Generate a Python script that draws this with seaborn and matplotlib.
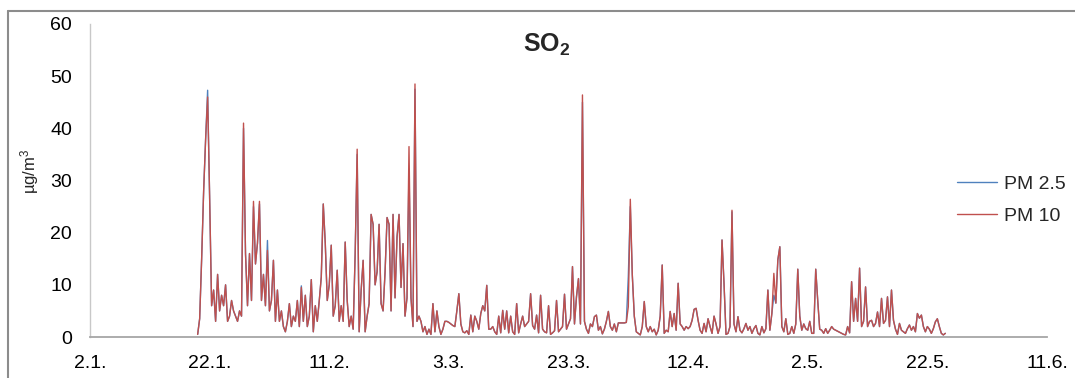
import pandas as pd
import matplotlib
matplotlib.use("Agg")
import matplotlib.pyplot as plt
from matplotlib.lines import Line2D
import seaborn as sns

# Hourly-derived SO2 readings, one value every 8 hours from 20 Jan
start = "2013-01-20 00:00"
step = "8h"

pm25 = [
    0.5, 3.5, 15, 28, 38, 47.3, 27, 6, 9, 3,
    12, 5, 8, 6, 10, 3, 4, 7, 5, 4,
    3, 5, 4, 40, 16, 6, 16, 7, 25, 14,
    18, 25.5, 7, 12, 6, 18.5, 5, 7, 14.7, 3,
    9, 3, 5, 2, 1, 3, 6.4, 2, 4, 3,
    7, 2, 9.8, 3, 8, 2, 4, 11, 1, 6,
    3, 7,
    11.5, 25.5, 18, 7, 10, 17.6, 4, 6, 12.8, 3,
    6, 3, 18.2, 7, 2, 4, 1.5, 16, 35, 1,
    9, 14.7, 1, 4, 6.4, 23.5, 21.6, 10, 12.5, 21.6,
    6.4, 5, 12.5, 22.9, 21.6, 5, 23.5, 7.5, 19.2, 23.5,
    9.5, 17.9, 4, 7.5, 32, 7.5, 2, 47.5, 3, 4,
    3, 1, 2, 0.5, 1.5, 0.5, 6.4, 1, 5, 2,
    0.5, 1.5,
    3, 3, 2.8, 2.5, 2.2, 2, 5, 8.3, 2.5, 1,
    0.8, 1.2, 0.5, 4.2, 1, 4, 3, 1.5, 4.5, 6,
    5, 9.9, 1.5, 1.5, 2, 1, 0.5, 4, 0.8, 5.1,
    1.5, 5, 0.8, 4, 1, 0.5, 6.4, 0.8, 2.5, 4,
    2, 2.5, 3, 8.3, 2.2, 1.5, 4.2, 0.8, 8, 1.5,
    1, 0.8, 6, 0.5, 0.8, 1.2, 7, 1, 1.5, 2,
    8.2, 1.5, 2.5, 3.5,
    13.5, 2.5, 7.7, 11.2, 2.5, 45, 3, 1.5, 0.7, 2.5,
    2, 3.9, 4.2, 1.3, 2, 0.6, 1.5, 3, 4.9, 2,
    1.3, 2.5, 1, 2.7, 2.7, 2.7, 2.7, 2.8, 11.6, 25,
    11.9, 4, 1, 0.7, 0.4, 2, 6.8, 2, 1, 2,
    1, 1.5, 0.4, 1.3, 4, 13.8, 0.7, 1.3, 1, 4.9,
    2, 4.5, 1.3, 10.3, 2.5, 2, 1.3, 2, 1.6, 2,
    3.2, 5.3,
    5.5, 3.2, 1.3, 0.7, 2.6, 1, 3.5, 2, 0.7, 4,
    2.5, 0.7, 2, 18.6, 10.3, 0.5, 0.7, 2, 24, 2.5,
    1, 3.9, 1.3, 0.8, 1.6, 2.6, 1.3, 2, 0.7, 1.6,
    2.2, 0.7, 0.4, 2, 0.8, 1.6, 9, 1.3, 4.5, 8,
    6.5, 14.8, 17.3, 2, 1, 3.5, 0.5, 0.7, 2, 0.7,
    2.5, 13, 4, 1.3, 2.5, 1.6, 1.3, 3, 0.7, 0.7,
    13, 7, 1.5, 1.3, 0.7, 1.6, 0.7, 1.3, 2, 1.5,
    1.3, 1.1, 0.9, 0.7, 0.5, 0.4, 2, 0.8, 10.6, 3,
    7.4, 3, 13.2, 2, 3, 9.6, 2, 3, 3.2, 2,
    2.6, 4.8, 2, 7.4, 2.6, 3.2, 7.7, 2, 9, 3.2,
    1.5, 0.5, 2.6, 1.3, 1, 0.7, 1.6, 2.3, 1.3, 2,
    1, 4.5, 3.6, 4.2, 2, 1, 2, 1.5, 0.7, 1.6,
    2.9, 3.5, 2, 0.7, 0.4, 0.7,
]

pm10 = [
    0.5, 3.5, 15, 28, 38, 46, 27, 6, 9, 3,
    12, 5, 8, 6, 10, 3, 4, 7, 5, 4,
    3, 5, 4, 41, 16, 6, 16, 7, 26, 14,
    18, 26, 7, 12, 6, 16.6, 5, 7, 14.7, 3,
    9, 3, 5, 2, 1, 3, 6.4, 2, 4, 3,
    7, 2, 9.5, 3, 8, 2, 4, 11, 1, 6,
    3, 7,
    11.5, 25.5, 18, 7, 10, 17.6, 4, 6, 12.8, 3,
    6, 3, 18.2, 7, 2, 4, 1.5, 16, 36, 1,
    9, 14.7, 1, 4, 6.4, 23.5, 21.6, 10, 12.5, 21.6,
    6.4, 5, 12.5, 22.9, 21.6, 5, 23.5, 7.5, 19.2, 23.5,
    9.5, 17.9, 4, 7.5, 36.5, 7.5, 2, 48.5, 3, 4,
    3, 1, 2, 0.5, 1.5, 0.5, 6.4, 1, 5, 2,
    0.5, 1.5,
    3, 3, 2.8, 2.5, 2.2, 2, 5, 8.3, 2.5, 1,
    0.8, 1.2, 0.5, 4.2, 1, 4, 3, 1.5, 4.5, 6,
    5, 9.9, 1.5, 1.5, 2, 1, 0.5, 4, 0.8, 5.1,
    1.5, 5, 0.8, 4, 1, 0.5, 6.4, 0.8, 2.5, 4,
    2, 2.5, 3, 8.3, 2.2, 1.5, 4.2, 0.8, 8, 1.5,
    1, 0.8, 6, 0.5, 0.8, 1.2, 7, 1, 1.5, 2,
    8.2, 1.5, 2.5, 3.5,
    13.5, 2.5, 7.7, 11.2, 2.5, 46.4, 3, 1.5, 0.7, 2.5,
    2, 3.9, 4.2, 1.3, 2, 0.6, 1.5, 3, 4.9, 2,
    1.3, 2.5, 1, 2.7, 2.7, 2.7, 2.7, 2.8, 5.8, 26.4,
    11.9, 4, 1, 0.7, 0.4, 2, 6.8, 2, 1, 2,
    1, 1.5, 0.4, 1.3, 4, 13.8, 0.7, 1.3, 1, 4.9,
    2, 4.5, 1.3, 10.3, 2.5, 2, 1.3, 2, 1.6, 2,
    3.2, 5.3,
    5.5, 3.2, 1.3, 0.7, 2.6, 1, 3.5, 2, 0.7, 4,
    2.5, 0.7, 2, 18.6, 10.3, 0.5, 0.7, 2, 24.3, 2.5,
    1, 3.9, 1.3, 0.8, 1.6, 2.6, 1.3, 2, 0.7, 1.6,
    2.2, 0.7, 0.4, 2, 0.8, 1.6, 9, 1.3, 4.5, 12.2,
    6.5, 14.8, 17.3, 2, 1, 3.5, 0.5, 0.7, 2, 0.7,
    2.5, 13, 4, 1.3, 2.5, 1.6, 1.3, 3, 0.7, 0.7,
    13, 7, 1.5, 1.3, 0.7, 1.6, 0.7, 1.3, 2, 1.5,
    1.3, 1.1, 0.9, 0.7, 0.5, 0.4, 2, 0.8, 10.6, 3,
    7.4, 3, 13.2, 2, 3, 9.6, 2, 3, 3.2, 2,
    2.6, 4.8, 2, 7.4, 2.6, 3.2, 7.7, 2, 9, 3.2,
    1.5, 0.5, 2.6, 1.3, 1, 0.7, 1.6, 2.3, 1.3, 2,
    1, 4.5, 3.6, 4.2, 2, 1, 2, 1.5, 0.7, 1.6,
    2.9, 3.5, 2, 0.7, 0.4, 0.7,
]

series_names = ["PM 2.5", "PM 10"]
series_colors = ["#4F81BD", "#C0504D"]

tick_dates = ["2013-01-02", "2013-01-22", "2013-02-11", "2013-03-03", "2013-03-23",
              "2013-04-12", "2013-05-02", "2013-05-22", "2013-06-11"]
tick_labels = ["2.1.", "22.1.", "11.2.", "3.3.", "23.3.", "12.4.", "2.5.", "22.5.", "11.6."]
y_ticks = [0, 10, 20, 30, 40, 50, 60]

sns.set_theme(style="white")
plt.rcParams["font.family"] = ["Liberation Sans", "DejaVu Sans"]
plt.rcParams["mathtext.fontset"] = "custom"
plt.rcParams["mathtext.rm"] = "Liberation Sans"
plt.rcParams["mathtext.it"] = "Liberation Sans"
plt.rcParams["mathtext.bf"] = "Liberation Sans:bold"

times = pd.date_range(start, periods=len(pm10), freq=step)
df = pd.concat([
    pd.DataFrame({"time": times, "value": pm25, "series": series_names[0]}),
    pd.DataFrame({"time": times, "value": pm10, "series": series_names[1]}),
], ignore_index=True)

W, H = 1075, 378
fig = plt.figure(figsize=(W / 100, H / 100), dpi=100)
ax = fig.add_axes([90 / W, (H - 337) / H, 957 / W, 313 / H])

sns.lineplot(data=df, x="time", y="value", hue="series", hue_order=series_names,
             palette=series_colors, estimator=None, linewidth=1.0, ax=ax, legend=False)

ax.set_xlim(pd.Timestamp(tick_dates[0]), pd.Timestamp(tick_dates[-1]))
ax.set_ylim(0, 60)
ax.set_xticks([pd.Timestamp(d) for d in tick_dates])
ax.set_xticklabels(tick_labels)
ax.set_yticks(y_ticks)
ax.set_yticklabels([str(v) for v in y_ticks])
ax.tick_params(axis="both", length=0, labelsize=14, colors="black")
ax.tick_params(axis="x", pad=13)
ax.tick_params(axis="y", pad=13)
ax.set_xlabel("")
ax.set_ylabel(r"µg/m$^3$", fontsize=12)
ax.yaxis.set_label_coords(-0.051, 0.53)

for side in ("top", "right"):
    ax.spines[side].set_visible(False)
ax.spines["left"].set_color("#C8C8C8")
ax.spines["left"].set_linewidth(1.0)
ax.spines["bottom"].set_color("#A6A6A6")
ax.spines["bottom"].set_linewidth(1.3)

fig.text(547 / W, 1 - 45 / H, r"$\mathbf{SO_2}$", fontsize=18, ha="center", va="center")

handles = [Line2D([], [], color=c, linewidth=1.0) for c in series_colors]
fig.legend(handles, series_names, loc="center left", bbox_to_anchor=(957 / W, 1 - 200 / H),
           frameon=False, fontsize=14, handlelength=2.06, handletextpad=0.36,
           labelspacing=0.75, borderpad=0, borderaxespad=0)

# outer chart frame: only the left and top edges fall inside the image
frame_kw = dict(transform=fig.transFigure, color="#8C8C8C", linewidth=1.5)
fig.add_artist(Line2D([8 / W, 8 / W], [0, 1 - 10.5 / H], **frame_kw))
fig.add_artist(Line2D([8 / W, 1], [1 - 10.5 / H, 1 - 10.5 / H], **frame_kw))

fig.savefig("out.png", dpi=100)
